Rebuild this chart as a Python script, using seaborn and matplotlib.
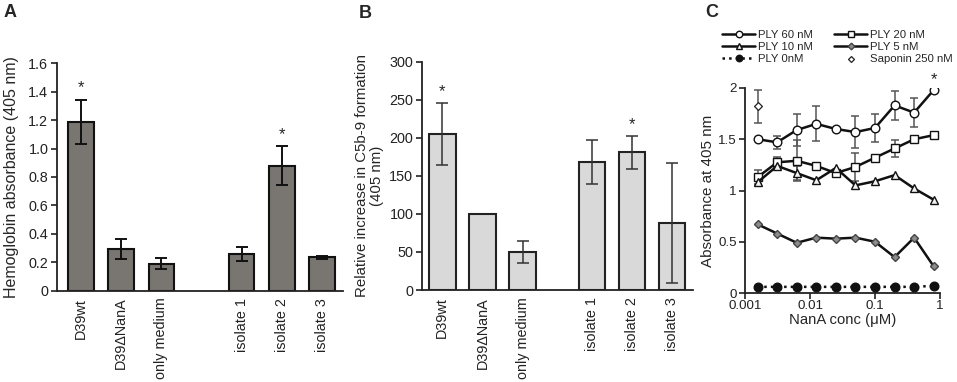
import numpy as np
import pandas as pd
import matplotlib
matplotlib.use("Agg")
import matplotlib.pyplot as plt
import seaborn as sns

sns.set_theme(style="ticks")
plt.rcParams['font.family'] = ['Liberation Sans', 'DejaVu Sans']

# ---------------- data ----------------
categories = ["D39wt", "D39\u0394NanA", "only medium", "isolate 1", "isolate 2", "isolate 3"]

hemo_mean = [1.19, 0.295, 0.19, 0.26, 0.88, 0.235]
hemo_err = [0.155, 0.07, 0.04, 0.05, 0.135, 0.01]
hemo_sig = [True, False, False, False, True, False]

c5b9_mean = [205, 100, 50, 168, 181, 88]
c5b9_err = [41, 0, 14.5, 29, 22, 79]
c5b9_sig = [True, False, False, False, True, False]

nana_conc = [0.0015625, 0.003125, 0.00625, 0.0125, 0.025, 0.05, 0.1, 0.2, 0.4, 0.8]
ply60 = [1.50, 1.47, 1.59, 1.65, 1.60, 1.57, 1.61, 1.83, 1.76, 1.98]
ply60_err = [0, 0.065, 0.156, 0.17, 0, 0.16, 0.14, 0.145, 0.14, 0]
ply20 = [1.13, 1.275, 1.29, 1.24, 1.17, 1.23, 1.32, 1.41, 1.50, 1.54]
ply20_err = [0.07, 0.055, 0.2, 0, 0, 0.14, 0, 0.08, 0, 0]
ply10 = [1.08, 1.24, 1.17, 1.10, 1.22, 1.05, 1.09, 1.15, 1.02, 0.91]
ply10_err = [0.03, 0.03, 0.065, 0, 0, 0, 0, 0, 0, 0]
ply5 = [0.67, 0.58, 0.49, 0.54, 0.53, 0.54, 0.50, 0.35, 0.54, 0.26]
ply0 = [0.06, 0.06, 0.06, 0.06, 0.06, 0.06, 0.06, 0.06, 0.06, 0.07]
saponin_conc = [0.0015625]
saponin = [1.82]
saponin_err = [0.16]

a_yticks = [0, 0.2, 0.4, 0.6, 0.8, 1.0, 1.2, 1.4, 1.6]
a_yticklabels = ["0", "0.2", "0.4", "0.6", "0.8", "1.0", "1.2", "1.4", "1.6"]
b_yticks = [0, 50, 100, 150, 200, 250, 300]
c_yticks = [0, 0.5, 1, 1.5, 2]
c_yticklabels = ["0", "0.5", "1", "1.5", "2"]
c_xticks = [0.001, 0.01, 0.1, 1]
c_xticklabels = ["0.001", "0.01", "0.1", "1"]

# ---------------- layout ----------------
A_POS = [0, 1, 2, 4, 5, 6]
B_POS = [0, 1, 2, 3.73, 4.73, 5.73]

W, H = 957, 382
fig = plt.figure(figsize=(W / 100, H / 100), dpi=100)

def px_axes(x0, y0, x1, y1):
    return fig.add_axes([x0 / W, 1 - y1 / H, (x1 - x0) / W, (y1 - y0) / H])

TFS = 10.4

def style_axes(ax, tfs=TFS):
    sns.despine(ax=ax)
    for s in ("left", "bottom"):
        ax.spines[s].set_linewidth(1.3)
        ax.spines[s].set_color("#222222")
    ax.tick_params(axis="y", direction="out", length=4, width=1.2, labelsize=tfs, pad=2, colors="#222222")
    ax.tick_params(axis="x", labelsize=tfs, colors="#222222")
    ax.set_facecolor("white")

# ---------------- Panel A ----------------
axA = px_axes(56.7, 63.3, 342.7, 290.7)
sns.barplot(x=A_POS, y=hemo_mean, native_scale=True, color="#797571", saturation=1,
            edgecolor="#111111", linewidth=1.5, width=0.64, errorbar=None, ax=axA)
axA.errorbar(A_POS, hemo_mean, yerr=hemo_err, fmt="none", ecolor="#111111",
             elinewidth=1.4, capsize=4, capthick=1.4)
for p, m, e, s in zip(A_POS, hemo_mean, hemo_err, hemo_sig):
    if s:
        axA.text(p, m + e + 0.03, "*", ha="center", va="bottom", fontsize=12)
axA.set_xlim(-0.61, 6.52)
axA.set_ylim(0, 1.6)
axA.set_yticks(a_yticks)
axA.set_yticklabels(a_yticklabels)
axA.set_xticks(A_POS)
axA.set_xticklabels(categories, rotation=90)
axA.set_ylabel("Hemoglobin absorbance (405 nm)", fontsize=11.5, labelpad=7)
axA.set_xlabel("")
style_axes(axA)
axA.tick_params(axis="x", length=0, pad=5)

# ---------------- Panel B ----------------
axB = px_axes(421.7, 61.7, 693, 290)
sns.barplot(x=B_POS, y=c5b9_mean, native_scale=True, color="#d9d9d9", saturation=1,
            edgecolor="#222222", linewidth=1.5, width=0.66, errorbar=None, ax=axB)
mask = [e > 0 for e in c5b9_err]
axB.errorbar([p for p, k in zip(B_POS, mask) if k],
             [m for m, k in zip(c5b9_mean, mask) if k],
             yerr=[e for e, k in zip(c5b9_err, mask) if k],
             fmt="none", ecolor="#333333", elinewidth=1.1, capsize=4, capthick=1.1)
for p, m, e, s in zip(B_POS, c5b9_mean, c5b9_err, c5b9_sig):
    if s:
        axB.text(p, m + e + 5, "*", ha="center", va="bottom", fontsize=12)
axB.set_xlim(-0.515, 6.25)
axB.set_ylim(0, 300)
axB.set_yticks(b_yticks)
axB.set_yticklabels([str(v) for v in b_yticks])
axB.set_xticks(B_POS)
axB.set_xticklabels(categories, rotation=90)
axB.set_ylabel("Relative increase in C5b-9 formation\n(405 nm)", fontsize=10.8, labelpad=4,
               linespacing=1.05)
axB.set_xlabel("")
style_axes(axB)
axB.tick_params(axis="x", length=0, pad=5)

# ---------------- Panel C ----------------
axC = px_axes(745, 88, 940, 293)
axC.set_xscale("log")

def err_plot(x, y, e, color="#555555"):
    xs = [a for a, b in zip(x, e) if b > 0]
    ys = [a for a, b in zip(y, e) if b > 0]
    es = [b for b in e if b > 0]
    if xs:
        axC.errorbar(xs, ys, yerr=es, fmt="none", ecolor=color, elinewidth=1.1,
                     capsize=3, capthick=1.1, zorder=1)

err_plot(nana_conc, ply60, ply60_err)
err_plot(nana_conc, ply20, ply20_err)
err_plot(nana_conc, ply10, ply10_err)
err_plot(saponin_conc, saponin, saponin_err)

series = [
    ("PLY 60 nM", ply60, dict(marker="o", markersize=6.2, markerfacecolor="white",
                              markeredgecolor="#111111", linestyle="-")),
    ("PLY 20 nM", ply20, dict(marker="s", markersize=5.8, markerfacecolor="white",
                              markeredgecolor="#111111", linestyle="-")),
    ("PLY 10 nM", ply10, dict(marker="^", markersize=6.2, markerfacecolor="#f2f2f2",
                              markeredgecolor="#111111", linestyle="-")),
    ("PLY 5 nM", ply5, dict(marker="D", markersize=4.5, markerfacecolor="#8c8c8c",
                            markeredgecolor="#444444", linestyle="-")),
    ("PLY 0nM", ply0, dict(marker="o", markersize=6.2, markerfacecolor="#111111",
                           markeredgecolor="#111111", linestyle=":")),
]
for name, vals, kw in series:
    sns.lineplot(x=nana_conc, y=vals, ax=axC, color="#111111", linewidth=1.8,
                 markeredgewidth=1.0, label=name, zorder=3, **kw)
sns.scatterplot(x=saponin_conc, y=saponin, ax=axC, marker="D", s=16, color="white",
                edgecolor="#222222", linewidth=0.9, label="Saponin 250 nM", zorder=3)
axC.text(0.8, 2.01, "*", ha="center", va="bottom", fontsize=12)

axC.set_xlim(0.001, 1)
axC.set_ylim(0, 2)
axC.set_yticks(c_yticks)
axC.set_yticklabels(c_yticklabels)
axC.set_xticks(c_xticks)
axC.set_xticklabels(c_xticklabels)
axC.xaxis.set_minor_locator(matplotlib.ticker.NullLocator())
axC.set_ylabel("Absorbance at 405 nm", fontsize=10.9, labelpad=2)
axC.set_xlabel("NanA conc (\u03bcM)", fontsize=10.7, labelpad=1)
style_axes(axC, tfs=9.6)
axC.tick_params(axis="x", direction="out", length=4, width=1.2, pad=1)

h, l = axC.get_legend_handles_labels()
hd = dict(zip(l, h))
axC.legend_.remove()
col_order = ["PLY 60 nM", "PLY 10 nM", "PLY 0nM", "PLY 20 nM", "PLY 5 nM", "Saponin 250 nM"]
fig.legend([hd[k] for k in col_order], col_order, ncol=2, frameon=False,
           fontsize=8.2, handlelength=2.9, handletextpad=0.25, columnspacing=1.9,
           labelspacing=0.17, markerscale=0.75, loc="upper left",
           bbox_to_anchor=(722 / W, 1 - 30 / H), borderaxespad=0, borderpad=0)

# panel letters
fig.text(4 / W, 1 - 4 / H, "A", fontsize=13, fontweight="bold", va="top", ha="left")
fig.text(359 / W, 1 - 5 / H, "B", fontsize=13, fontweight="bold", va="top", ha="left")
fig.text(705 / W, 1 - 4 / H, "C", fontsize=13, fontweight="bold", va="top", ha="left")

fig.savefig("out.png", dpi=100, facecolor="white")
